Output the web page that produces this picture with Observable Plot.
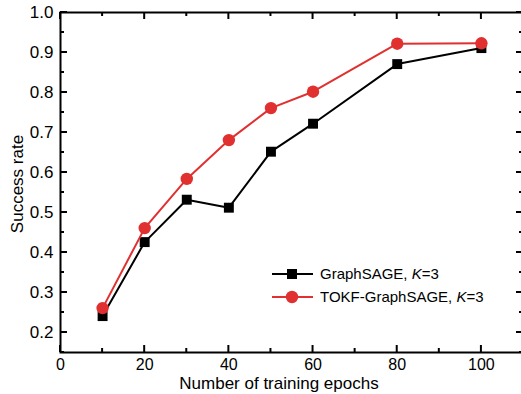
<!DOCTYPE html>
<html><head><meta charset="utf-8">
<script src="https://cdn.jsdelivr.net/npm/d3@7"></script>
<script src="https://cdn.jsdelivr.net/npm/@observablehq/plot@0.6"></script>
<style>body{margin:0;background:#fff;} #chart{width:521px;height:394px;overflow:hidden;}</style>
</head><body><div id="chart"></div>
<script>
const epochs = [10, 20, 30, 40, 50, 60, 80, 100];
const graphSage = [0.241, 0.426, 0.532, 0.512, 0.652, 0.722, 0.871, 0.911];
const tokf = [0.261, 0.461, 0.584, 0.681, 0.761, 0.802, 0.922, 0.923];
const seriesNames = ["GraphSAGE", "TOKF-GraphSAGE"];
const xMajor = [0, 20, 40, 60, 80, 100];
const xMinor = [10, 30, 50, 70, 90, 110];
const yMajor = [0.2, 0.3, 0.4, 0.5, 0.6, 0.7, 0.8, 0.9, 1.0];
const yMinor = [0.15, 0.25, 0.35, 0.45, 0.55, 0.65, 0.75, 0.85, 0.95];
const xLabel = "Number of training epochs";
const yLabel = "Success rate";

const RED = "#e03030";
const blackData = epochs.map((e, i) => ({x: e, y: graphSage[i]}));
const redData = epochs.map((e, i) => ({x: e, y: tokf[i]}));
const FONT = "'Liberation Sans', Arial, Helvetica, sans-serif";

const plot = Plot.plot({
  width: 521, height: 394,
  marginLeft: 60, marginRight: -2, marginTop: 12, marginBottom: 42,
  style: {fontFamily: FONT, background: "white", color: "black", overflow: "visible"},
  x: {domain: [0, 110]},
  y: {domain: [0.15, 1.0]},
  marks: [
    Plot.axisX(xMajor, {tickSize: 0, tickPadding: 6, fontSize: 16, label: null, tickFormat: d => String(d)}),
    Plot.axisY(yMajor, {tickSize: 0, tickPadding: 7, fontSize: 17, label: null, tickFormat: d => d.toFixed(1)}),
    Plot.line(blackData, {x: "x", y: "y", stroke: "black", strokeWidth: 2}),
    Plot.dot(blackData, {x: "x", y: "y", symbol: "square", r: 5.6, fill: "black", stroke: null}),
    Plot.line(redData, {x: "x", y: "y", stroke: RED, strokeWidth: 2}),
    Plot.dot(redData, {x: "x", y: "y", symbol: "circle", r: 6.2, fill: RED, stroke: null}),
    Plot.frame({stroke: "black", strokeWidth: 2})
  ]
});

const sx = plot.scale("x"), sy = plot.scale("y");
const xl = sx.apply(0), xr = sx.apply(110);
const yb = sy.apply(0.15), yt = sy.apply(1.0);
const svg = d3.select(plot);
const g = svg.append("g").attr("stroke", "black").attr("stroke-width", 2).attr("fill", "none");
function xt(vals, len) {
  vals.forEach(v => {
    const px = sx.apply(v);
    g.append("line").attr("x1", px).attr("x2", px).attr("y1", yb).attr("y2", yb - len);
    g.append("line").attr("x1", px).attr("x2", px).attr("y1", yt).attr("y2", yt + len);
  });
}
function ytk(vals, len) {
  vals.forEach(v => {
    const py = sy.apply(v);
    g.append("line").attr("y1", py).attr("y2", py).attr("x1", xl).attr("x2", xl + len);
    g.append("line").attr("y1", py).attr("y2", py).attr("x1", xr).attr("x2", xr - len);
  });
}
xt(xMajor, 7); xt(xMinor, 4);
ytk(yMajor, 7); ytk(yMinor, 4);

svg.append("text").attr("x", 279).attr("y", 389).attr("text-anchor", "middle")
  .attr("font-size", 17).attr("font-family", FONT).attr("fill", "black").text(xLabel);
svg.append("text").attr("transform", "translate(23,184) rotate(-90)").attr("text-anchor", "middle")
  .attr("font-size", 17).attr("font-family", FONT).attr("fill", "black").text(yLabel);

// legend
const leg = svg.append("g").attr("font-family", FONT).attr("font-size", 15).attr("text-anchor", "start");
[{name: seriesNames[0], color: "black", sym: "square", y: 274},
 {name: seriesNames[1], color: RED, sym: "circle", y: 297}].forEach(s => {
  leg.append("line").attr("x1", 272).attr("x2", 313).attr("y1", s.y).attr("y2", s.y)
    .attr("stroke", s.color).attr("stroke-width", 2);
  if (s.sym === "square") {
    leg.append("rect").attr("x", 292 - 5).attr("y", s.y - 5).attr("width", 10).attr("height", 10).attr("fill", s.color);
  } else {
    leg.append("circle").attr("cx", 292).attr("cy", s.y).attr("r", 6.2).attr("fill", s.color);
  }
  const t = leg.append("text").attr("x", 320).attr("y", s.y).attr("dy", "0.35em")
    .attr("text-anchor", "start").attr("fill", "black");
  t.append("tspan").text(s.name + ", ");
  t.append("tspan").attr("font-style", "italic").text("K");
  t.append("tspan").text("=3");
});

document.getElementById("chart").appendChild(plot);
</script>
</body></html>
